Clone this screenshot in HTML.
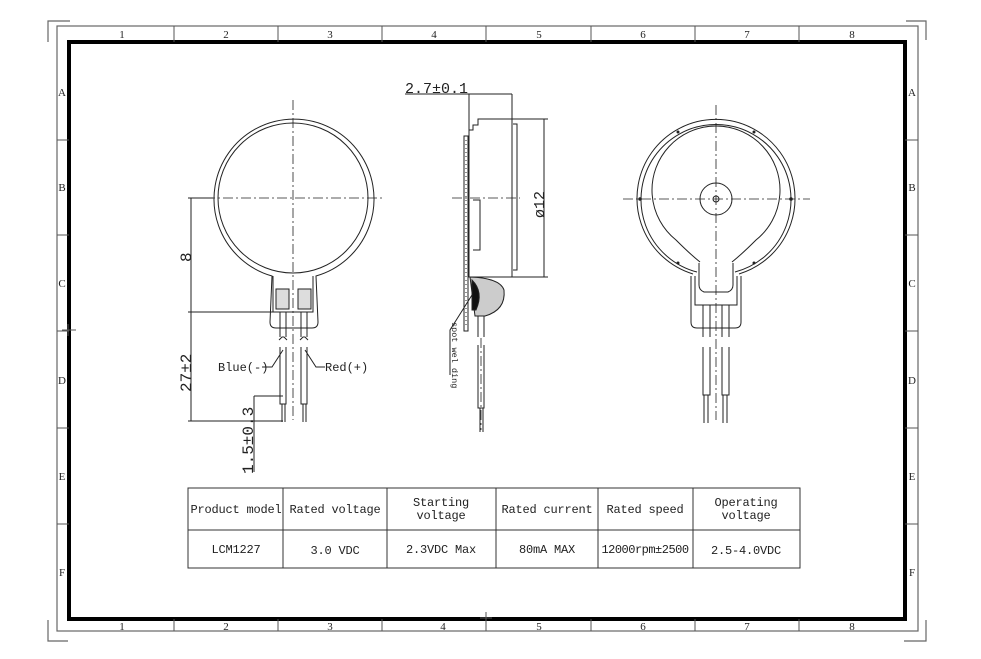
<!DOCTYPE html>
<html><head><meta charset="utf-8"><style>
html,body{margin:0;padding:0;background:#fff;}
svg{display:block;}
</style></head><body>
<svg width="981" height="659" viewBox="0 0 981 659" xmlns="http://www.w3.org/2000/svg" font-family="Liberation Sans, sans-serif">
<g fill="none" stroke="#666" stroke-width="1.2">
<rect x="57" y="26" width="861" height="605"/>
<path d="M48 42 V21 H70"/>
<path d="M904 641 H926 V620"/>
<path d="M906 21 H926 V40"/>
<path d="M48 620 V641 H68"/>
</g>
<rect x="69" y="42" width="836" height="577" fill="none" stroke="#000" stroke-width="4"/>
<g stroke="#555" stroke-width="1">
<path d="M174 26v16M278 26v16M382 26v16M486 26v16M591 26v16M695 26v16M799 26v16"/>
<path d="M174 619v12M278 619v12M382 619v12M486 619v12M591 619v12M695 619v12M799 619v12"/>
<path d="M57 140h12M57 235h12M57 331h12M57 428h12M57 524h12"/>
<path d="M905 140h13M905 235h13M905 331h13M905 428h13M905 524h13"/>
<path d="M62 330h14M68 324v12M486 612v14M480 618h12"/>
</g>
<g font-family="Liberation Serif, serif" font-size="11" text-anchor="middle" fill="#222">
<text x="122" y="38">1</text><text x="226" y="38">2</text><text x="330" y="38">3</text><text x="434" y="38">4</text><text x="539" y="38">5</text><text x="643" y="38">6</text><text x="747" y="38">7</text><text x="852" y="38">8</text>
<text x="122" y="630">1</text><text x="226" y="630">2</text><text x="330" y="630">3</text><text x="443" y="630">4</text><text x="539" y="630">5</text><text x="643" y="630">6</text><text x="747" y="630">7</text><text x="852" y="630">8</text>
<text x="62" y="96">A</text><text x="62" y="191">B</text><text x="62" y="287">C</text><text x="62" y="384">D</text><text x="62" y="480">E</text><text x="62" y="576">F</text>
<text x="912" y="96">A</text><text x="912" y="191">B</text><text x="912" y="287">C</text><text x="912" y="384">D</text><text x="912" y="480">E</text><text x="912" y="576">F</text>
</g>

<!-- Front view -->
<g fill="none" stroke="#222" stroke-width="1">
<path d="M272 276 A80 80 0 1 1 316 276 L318 322 Q318 328 312 328 L276 328 Q270 328 270 322 Z"/>
<circle cx="293" cy="198" r="75"/>
<path d="M273 276 V312 H313 V276"/>
<rect x="276" y="289" width="13" height="20" fill="#ddd"/>
<rect x="298" y="289" width="13" height="20" fill="#ddd"/>
<path d="M280 312 V337 M286 312 V337 M280 347 V404 H286 V347 M301 312 V337 M307 312 V337 M301 347 V404 H307 V347 M279 340 l3 -3 h2 l3 3 M300 340 l3 -3 h2 l3 3 M282 404 V422 M285 404 V422 M303 404 V422 M306 404 V422"/>
<path d="M191 198 V312 M191 312 V421 M188 198 H213 M188 312 H273 M188 421 H283 M254 396 V472 M254 396 H283"/>
<path d="M283 350 L272 367 H262 M305 350 L316 367 H325"/>
</g>
<g stroke="#222" stroke-width="0.8" fill="none" stroke-dasharray="10 3 2 3">
<path d="M293 100 V420 M205 198 H385"/>
<path d="M716 105 V420 M623 199 H810"/>
<path d="M452 198 H520"/>
<path d="M481 338 V430"/>
</g>
<g fill="#222" stroke="none" font-size="12" font-family="Liberation Mono, monospace">
<text x="218" y="371">Blue(-)</text>
<text x="325" y="371">Red(+)</text>
<text transform="translate(191,262) rotate(-90)" font-size="16">8</text>
<text transform="translate(191,392) rotate(-90)" font-size="16">27±2</text>
<text transform="translate(253,474) rotate(-90)" font-size="16">1.5±0.3</text>
<text x="405" y="93" font-size="15">2.7±0.1</text>
<text transform="translate(544,218) rotate(-90)" font-size="15">ø12</text>
<text transform="translate(452,322) rotate(90)" font-size="8.5">spot wel ding</text>
</g>

<!-- Side view -->
<g fill="none" stroke="#222" stroke-width="1">
<path d="M405 94 H512 M469 94 V136 M512 94 V119"/>
<path d="M469 136 V277 H512 V119 H478 V125 H473 V130 H469"/>
<path d="M513 124 H517 V270 H513"/>
<rect x="464" y="136" width="4" height="195"/>
<path d="M466 140 V328" stroke-dasharray="1 3"/>
<path d="M473 200 H480 V250 H473"/>
<path d="M512 119 H548 M512 277 H548 M544 119 V277"/>
<path d="M470 277 Q500 278 504 290 Q506 310 485 316 L475 316 Z" fill="#ccc"/>
<path d="M472 280 Q484 292 476 310 L472 310 Z" fill="#111"/>
<path d="M478 316 V337 M484 316 V337 M478 345 V408 H484 V345 M480 408 V432 M483 408 V432"/>
<path d="M472 295 L450 330 V375"/>
</g>

<!-- Back view -->
<g fill="none" stroke="#222" stroke-width="1">
<path d="M693 274 A79 79 0 1 1 739 274"/>
<path d="M697 272 A75 75 0 1 1 735 272"/>
<path d="M700 262 Q690 254 676 240 A64 64 0 1 1 756 240 Q742 254 732 262"/>
<circle cx="716" cy="199" r="16"/>
<circle cx="716" cy="199" r="3"/>
<path d="M691 276 V322 Q691 328 697 328 H735 Q741 328 741 322 V276"/>
<path d="M695 276 V305 H737 V276"/>
<path d="M699 263 V285 Q699 290 704 292 H728 Q733 290 733 285 V263"/>
<path d="M703 305 V337 M710 305 V337 M703 347 V395 H710 V347 M722 305 V337 M729 305 V337 M722 347 V395 H729 V347 M704 395 V423 M708 395 V423 M723 395 V423 M727 395 V423"/>
</g>
<g fill="#222"><circle cx="640" cy="199" r="1.8"/><circle cx="791" cy="199" r="1.8"/><circle cx="678" cy="132" r="1.5"/><circle cx="754" cy="132" r="1.5"/><circle cx="678" cy="263" r="1.5"/><circle cx="754" cy="263" r="1.5"/></g>

<!-- Table -->
<g fill="none" stroke="#333" stroke-width="1">
<rect x="188" y="488" width="612" height="80"/>
<path d="M188 530 H800 M283 488 V568 M387 488 V568 M496 488 V568 M598 488 V568 M693 488 V568"/>
</g>
<g font-size="12" text-anchor="middle" font-family="Liberation Mono, monospace" fill="#222" letter-spacing="-0.2">
<text x="236" y="513">Product model</text>
<text x="335" y="513">Rated voltage</text>
<text x="441" y="506">Starting</text><text x="441" y="519">voltage</text>
<text x="547" y="513">Rated current</text>
<text x="645" y="513">Rated speed</text>
<text x="746" y="506">Operating</text><text x="746" y="519">voltage</text>
<text x="236" y="553">LCM1227</text>
<text x="335" y="554">3.0 VDC</text>
<text x="441" y="553">2.3VDC Max</text>
<text x="547" y="553">80mA MAX</text>
<text x="645" y="553" letter-spacing="-0.5">12000rpm±2500</text>
<text x="746" y="554">2.5-4.0VDC</text>
</g>
</svg>
</body></html>
